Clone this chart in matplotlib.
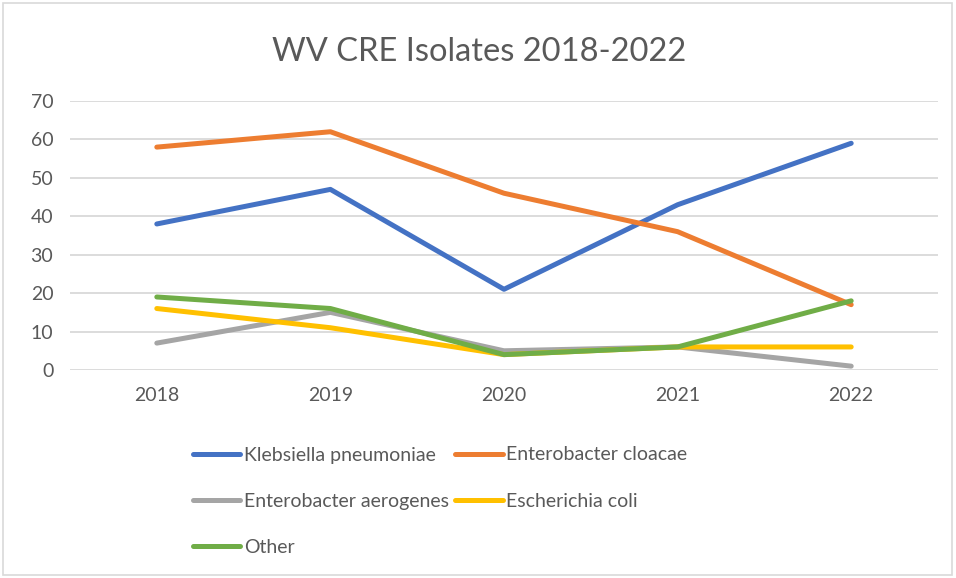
import matplotlib.pyplot as plt
from matplotlib.patches import Rectangle

years = ["2018", "2019", "2020", "2021", "2022"]
klebsiella = [38, 47, 21, 43, 59]
cloacae = [58, 62, 46, 36, 17]
aerogenes = [7, 15, 5, 6, 1]
ecoli = [16, 11, 4, 6, 6]
other = [19, 16, 4, 6, 18]

series = [
    ("Klebsiella pneumoniae", klebsiella, "#4472C4"),
    ("Enterobacter cloacae", cloacae, "#ED7D31"),
    ("Enterobacter aerogenes", aerogenes, "#A5A5A5"),
    ("Escherichia coli", ecoli, "#FFC000"),
    ("Other", other, "#70AD47"),
]

plt.rcParams["font.family"] = ["Lato", "DejaVu Sans"]
txt = "#595959"

W, H = 956, 578
fig = plt.figure(figsize=(W / 100, H / 100), dpi=100)
fig.add_artist(Rectangle((3 / W, 3 / H), 949 / W, 572 / H, transform=fig.transFigure,
                         fill=False, edgecolor="#D9D9D9", lw=1.2))

ax = fig.add_axes([70 / W, 1 - 370 / H, 868 / W, 269 / H])
x = list(range(len(years)))
lines = {}
for name, vals, col in series:
    lines[name], = ax.plot(x, vals, color=col, lw=3.6, solid_capstyle="round",
                           solid_joinstyle="round", label=name)

ax.set_xlim(-0.5, len(years) - 0.5)
ax.set_ylim(0, 70)
ax.set_yticks(range(0, 71, 10))
ax.set_xticks(x)
ax.set_xticklabels(years)
ax.grid(axis="y", color="#D9D9D9", lw=1.3)
ax.set_axisbelow(True)
for s in ax.spines.values():
    s.set_visible(False)
ax.tick_params(length=0, labelsize=14, colors=txt, pad=12)
ax.tick_params(axis="y", pad=12)

fig.text(479 / W, 1 - 52 / H, "WV CRE Isolates 2018-2022", ha="center", va="center",
         fontsize=23.5, color=txt)

order = ["Klebsiella pneumoniae", "Enterobacter aerogenes", "Other",
         "Enterobacter cloacae", "Escherichia coli"]
leg = fig.legend([lines[n] for n in order], order, ncol=2, loc="upper left",
                 bbox_to_anchor=(175 / W, 1 - 429 / H), frameon=False,
                 fontsize=14, handlelength=2.45, handletextpad=0.2,
                 columnspacing=0.3, labelspacing=1.5, labelcolor=txt)

fig.savefig("out.png", dpi=100)
